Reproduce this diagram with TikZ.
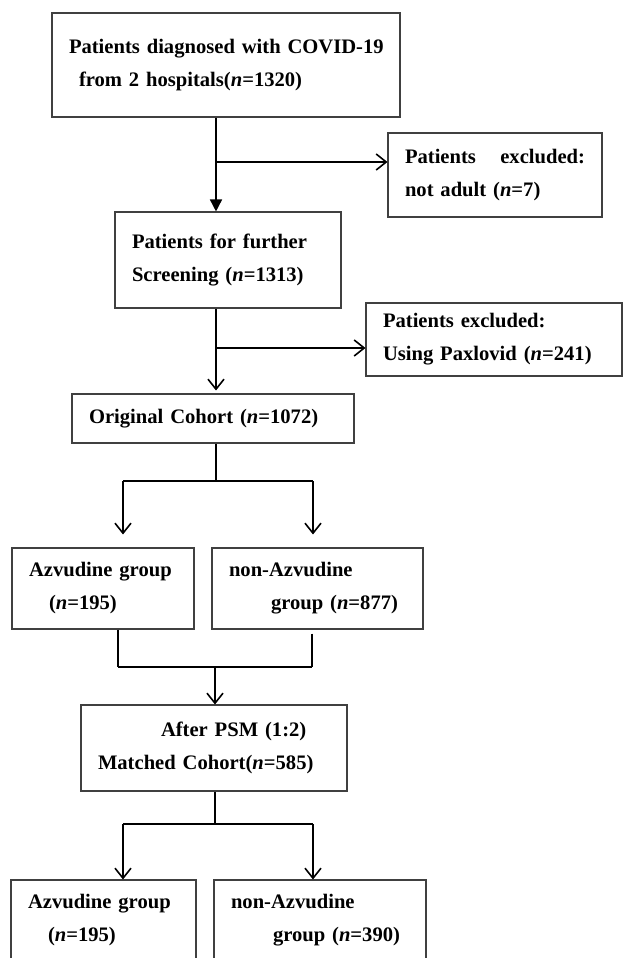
\documentclass[tikz,border=0pt]{standalone}
\usepackage{fontspec}
\setmainfont{Liberation Serif}
\usepackage{tikz}
\usetikzlibrary{arrows.meta,positioning,calc}

\tikzset{
  box/.style={draw=black!75, line width=1.1pt, align=left, inner xsep=17pt,
    font=\fontsize{20.6}{33}\selectfont\bfseries},
  link/.style={line width=1.6pt},
  bar/.style={line width=2.4pt},
  open/.style={-{Straight Barb[length=10pt,width=16pt,line width=1.6pt]}},
  solid tip/.style={-{Triangle[length=12pt,width=12pt]}}
}
\newcommand{\nn}{\textit{n}}

\begin{document}
\begin{tikzpicture}[x=1pt,y=-1pt]
  \clip (0,0) rectangle (623,958);

  % Boxes
  \node[box, text width=314pt, minimum height=104pt] (top) at (226,65)
    {\mbox{Patients diagnosed with COVID-19}\\\hspace*{10pt}from 2 hospitals(\nn=1320)};
  \node[box, text width=192pt, minimum height=96pt] (further) at (228,260)
    {Patients for further\\Screening (\nn=1313)};
  \node[box, text width=180pt, minimum height=84pt] (exclA) at (495,175)
    {Patients\hfill excluded:\\not adult (\nn=7)};
  \node[box, text width=222pt, minimum height=73pt] (exclB) at (494,339.5)
    {Patients excluded:\\Using Paxlovid (\nn=241)};
  \node[box, text width=248pt, minimum height=49pt] (orig) at (213,418.5)
    {Original Cohort (\nn=1072)};
  \node[box, text width=148pt, minimum height=81pt] (azvA) at (103,588.5)
    {Azvudine group\\\hspace*{20pt}(\nn=195)};
  \node[box, text width=177pt, minimum height=81pt] (nonA) at (317.5,588.5)
    {non-Azvudine\\\hspace*{42pt}group (\nn=877)};
  \node[box, text width=232pt, minimum height=86pt] (psm) at (214,748)
    {\hspace*{63pt}After PSM (1:2)\\Matched Cohort(\nn=585)};
  \node[box, text width=151pt, minimum height=81pt] (azvB) at (103.5,920.5)
    {Azvudine group\\\hspace*{20pt}(\nn=195)};
  \node[box, text width=178pt, minimum height=81pt] (nonB) at (320,920.5)
    {non-Azvudine\\\hspace*{42pt}group (\nn=390)};

  % Junctions
  \coordinate (s1) at (216,162);
  \coordinate (s2) at (216,348);
  \coordinate (b1) at (216,481);
  \coordinate (b1l) at (123,481);
  \coordinate (b1r) at (313,481);
  \coordinate (m1) at (215,667);
  \coordinate (m1l) at (118,667);
  \coordinate (m1r) at (312,667);
  \coordinate (b2) at (215,824);
  \coordinate (b2l) at (123,824);
  \coordinate (b2r) at (313,824);

  % Screening
  \draw[link, solid tip] (top.south -| s1) -- (further.north -| s1);
  \draw[link, open] (s1) -- (exclA.west |- s1);
  \draw[link, open, shorten >=3pt] (further.south -| s2) -- (orig.north -| s2);
  \draw[link, open] (s2) -- (exclB.west |- s2);

  % Split into groups
  \draw[link] (orig.south -| b1) -- (b1);
  \draw[bar] (b1l) -- (b1r);
  \draw[link, open, shorten >=13pt] (b1l) -- (azvA.north -| b1l);
  \draw[link, open, shorten >=13pt] (b1r) -- (azvA.north -| b1r);

  % Merge for PSM
  \draw[link] (azvA.south -| m1l) -- (m1l);
  \draw[link, shorten <=4pt] (nonA.south -| m1r) -- (m1r);
  \draw[bar] (m1l) -- (m1r);
  \draw[link, open] (m1) -- (psm.north -| m1);

  % Matched cohort
  \draw[link] (psm.south -| b2) -- (b2);
  \draw[bar] (b2l) -- (b2r);
  \draw[link, open] (b2l) -- (azvB.north -| b2l);
  \draw[link, open] (b2r) -- (nonB.north -| b2r);
\end{tikzpicture}
\end{document}
